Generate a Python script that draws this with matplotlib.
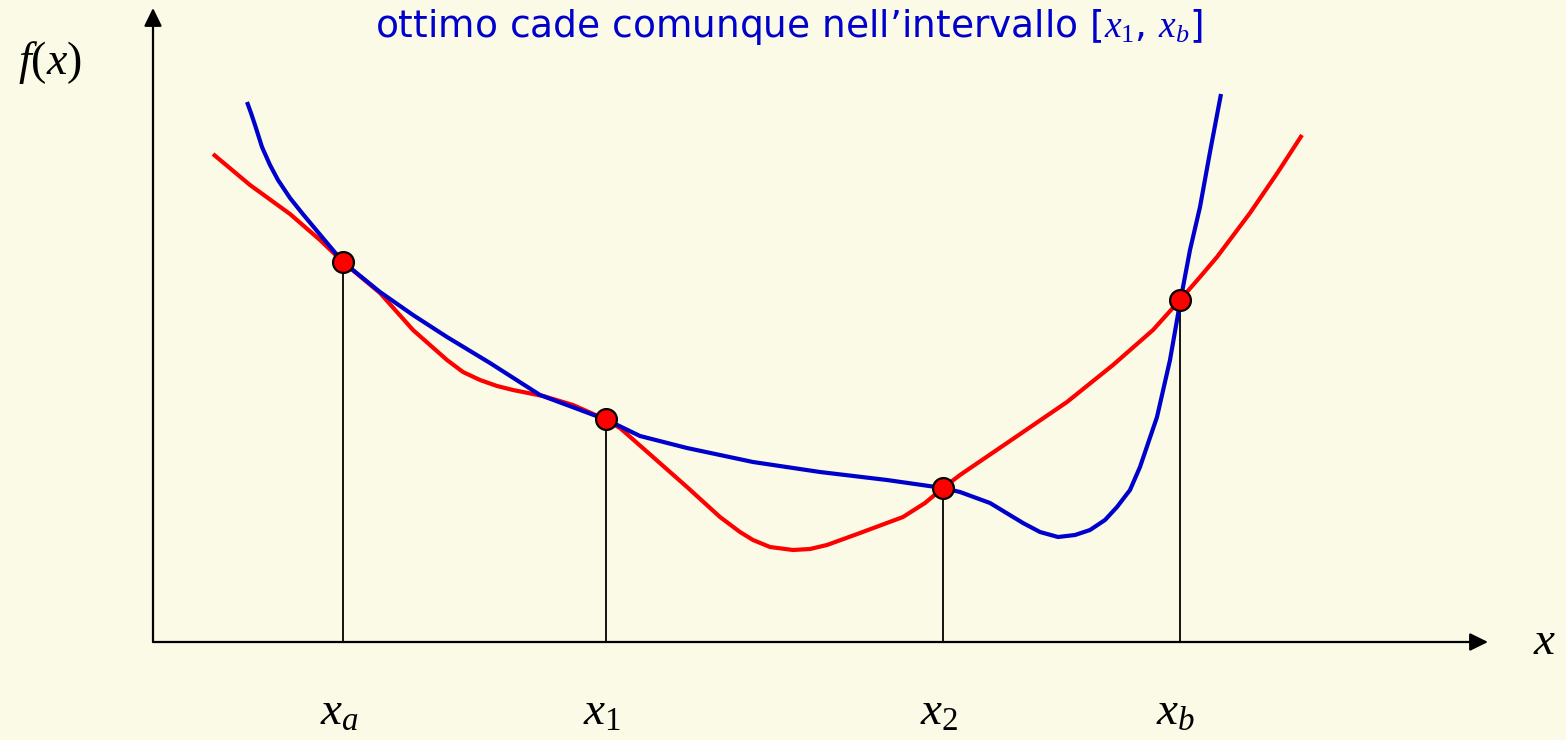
import matplotlib
matplotlib.use("Agg")
import matplotlib.pyplot as plt

# curve samples (x to the right of the f(x) axis, y above the x axis)
blue_x = [94, 98, 102, 109, 117, 125, 137, 149, 169, 190, 227, 260, 294, 337, 387, 422, 454,
          487, 534, 600, 667, 734, 790, 807, 837, 870, 887, 905, 922, 937, 952, 964, 977,
          987, 1004, 1017, 1027, 1037, 1047, 1057, 1068]
blue_y = [540, 529, 517, 495, 477, 462, 444, 429, 405, 380, 350, 327, 305, 279, 247, 234, 222,
          206, 194, 180, 170, 162, 154, 150, 139, 119, 110, 105, 107, 112, 122, 135, 152,
          175, 225, 282, 339, 392, 435, 490, 548]

red_x = [60, 97, 137, 167, 190, 227, 260, 294, 310, 327, 344, 360, 375, 390, 420, 447, 467,
         500, 534, 567, 587, 600, 617, 640, 657, 674, 707, 750, 772, 790, 807, 854, 914, 960,
         1000, 1027, 1047, 1064, 1097, 1125, 1149]
red_y = [488, 457, 428, 402, 380, 349, 312, 282, 270, 262, 256, 252, 249, 246, 237, 225, 214,
         185, 155, 125, 110, 102, 95, 92, 93, 97, 109, 125, 139, 154, 167, 199, 240, 277,
         312, 342, 365, 385, 429, 470, 507]

# sampled points
pt_x = [190, 453, 790, 1027]
pt_y = [380, 223, 154, 342]
pt_labels = ["$x_a$", "$x_1$", "$x_2$", "$x_b$"]

x_end = 1335
y_end = 634

plt.rcParams['mathtext.fontset'] = 'custom'
plt.rcParams['mathtext.rm'] = 'Liberation Serif'
plt.rcParams['mathtext.it'] = 'Liberation Serif:italic'

bg = '#FAFAE6'
fig = plt.figure(figsize=(15.66, 7.40), dpi=100, facecolor=bg)
ax = fig.add_axes([0, 0, 1, 1])
ax.set_facecolor(bg)
ax.set_xlim(-153, 1413)
ax.set_ylim(-98, 642)
ax.axis('off')

# axes with arrow heads
arrow = dict(arrowstyle='-|>,head_length=1.1,head_width=0.54', color='black', lw=1.6,
             shrinkA=0, shrinkB=0, mutation_scale=10)
ax.annotate('', xy=(x_end, 0), xytext=(0, 0), arrowprops=arrow)
ax.annotate('', xy=(0, y_end), xytext=(0, 0), arrowprops=arrow)

# drop lines from the points to the x axis
ax.vlines(pt_x, 0, pt_y, color='black', lw=1.3, zorder=2)

ax.plot(red_x, red_y, color='#FF0000', lw=3.0, solid_capstyle='butt',
        solid_joinstyle='round', zorder=3)
ax.plot(blue_x, blue_y, color='#0000CC', lw=3.0, solid_capstyle='butt',
        solid_joinstyle='round', zorder=4)
ax.plot(pt_x, pt_y, 'o', color='#FF0000', markersize=15, markeredgecolor='black',
        markeredgewidth=1.6, zorder=5)

for x, lab in zip(pt_x, pt_labels):
    ax.text(x - 4, -83, lab, fontsize=34, ha='center', va='baseline')

ax.text(-103, 580, "$f(x)$", fontsize=33, ha='center', va='center')
ax.text(1392, 0, "$x$", fontsize=34, ha='center', va='center')

ax.text(222, 605, "ottimo cade comunque nell\u2019intervallo [$x_1$, $x_b$]",
        fontsize=27, color='#0000CC', family='DejaVu Sans', ha='left', va='baseline')

fig.savefig('out.png', dpi=100, facecolor=bg)
